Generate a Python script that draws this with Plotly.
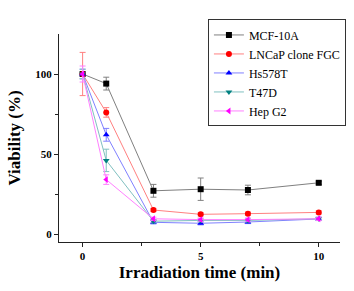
import plotly.graph_objects as go

time = [0, 1, 3, 5, 7, 10]
series_names = ["MCF-10A", "LNCaP clone FGC", "Hs578T", "T47D", "Hep G2"]
mcf = [100, 94, 27, 28, 27.5, 32]
mcf_err = [0, 4, 4, 7, 3, 1]
lncap = [100, 76, 15, 12.3, 12.7, 13.5]
lncap_err = [13.5, 3, 1, 1, 1, 1]
hs = [100, 62, 7.3, 6.7, 7.5, 9.4]
hs_err = [3, 4, 1, 1, 1, 1]
t47 = [100, 46, 8, 8.5, 8.5, 9.5]
t47_err = [3, 7, 1, 1, 1, 1]
hep = [100, 34, 9.5, 9, 9, 9.5]
hep_err = [5, 3, 1, 1, 1, 1]

values = [mcf, lncap, hs, t47, hep]
errors = [mcf_err, lncap_err, hs_err, t47_err, hep_err]
marker_colors = ["#000000", "#ff0000", "#0000ff", "#008080", "#ff00ff"]
line_colors = ["#808080", "#ff8080", "#8080ff", "#80c0c0", "#ff80ff"]
symbols = ["square", "circle", "triangle-up", "triangle-down", "triangle-left"]

fig = go.Figure()
for name, v, e, mc, lc, sym in zip(series_names, values, errors, marker_colors, line_colors, symbols):
    fig.add_trace(go.Scatter(
        x=time, y=v, name=name, mode="lines+markers",
        line=dict(color=lc, width=1),
        marker=dict(color=mc, symbol=sym, size=6),
        error_y=dict(type="data", array=e, color=lc, thickness=1, width=3),
    ))

font_family = "Liberation Serif, Times New Roman, serif"
fig.update_layout(
    width=354, height=291,
    margin=dict(l=59, r=14, t=34, b=49, autoexpand=False),
    paper_bgcolor="white", plot_bgcolor="white",
    font=dict(family=font_family, color="black"),
    showlegend=True,
    legend=dict(
        x=0.53, y=1.07, xanchor="left", yanchor="top",
        bordercolor="#333333", borderwidth=1, bgcolor="white",
        font=dict(family=font_family, size=12, color="black"),
        itemwidth=30, tracegroupgap=0,
    ),
    xaxis=dict(
        range=[-1, 10.9], tickvals=[0, 5, 10], showgrid=False, zeroline=False,
        showline=True, linecolor="#222222", linewidth=1, automargin=False,
        ticks="outside", ticklen=4, tickcolor="#222222",
        minor=dict(tickvals=[2.5, 7.5], ticks="outside", ticklen=3, tickcolor="#222222"),
        tickfont=dict(family=font_family, size=11, weight="bold"),
        title=dict(text="Irradiation time (min)", standoff=4,
                   font=dict(family=font_family, size=17, weight="bold")),
    ),
    yaxis=dict(
        range=[-5, 125], tickvals=[0, 50, 100], showgrid=False, zeroline=False,
        showline=True, linecolor="#222222", linewidth=1, automargin=False,
        ticks="outside", ticklen=4, tickcolor="#222222",
        minor=dict(tickvals=[25, 75], ticks="outside", ticklen=3, tickcolor="#222222"),
        tickfont=dict(family=font_family, size=11, weight="bold"),
        title=dict(text="Viability (%)", standoff=10,
                   font=dict(family=font_family, size=17, weight="bold")),
    ),
)

fig.write_html("out.html", config={"displayModeBar": False},
               post_script="document.body.style.margin='0';document.body.style.padding='0';")
